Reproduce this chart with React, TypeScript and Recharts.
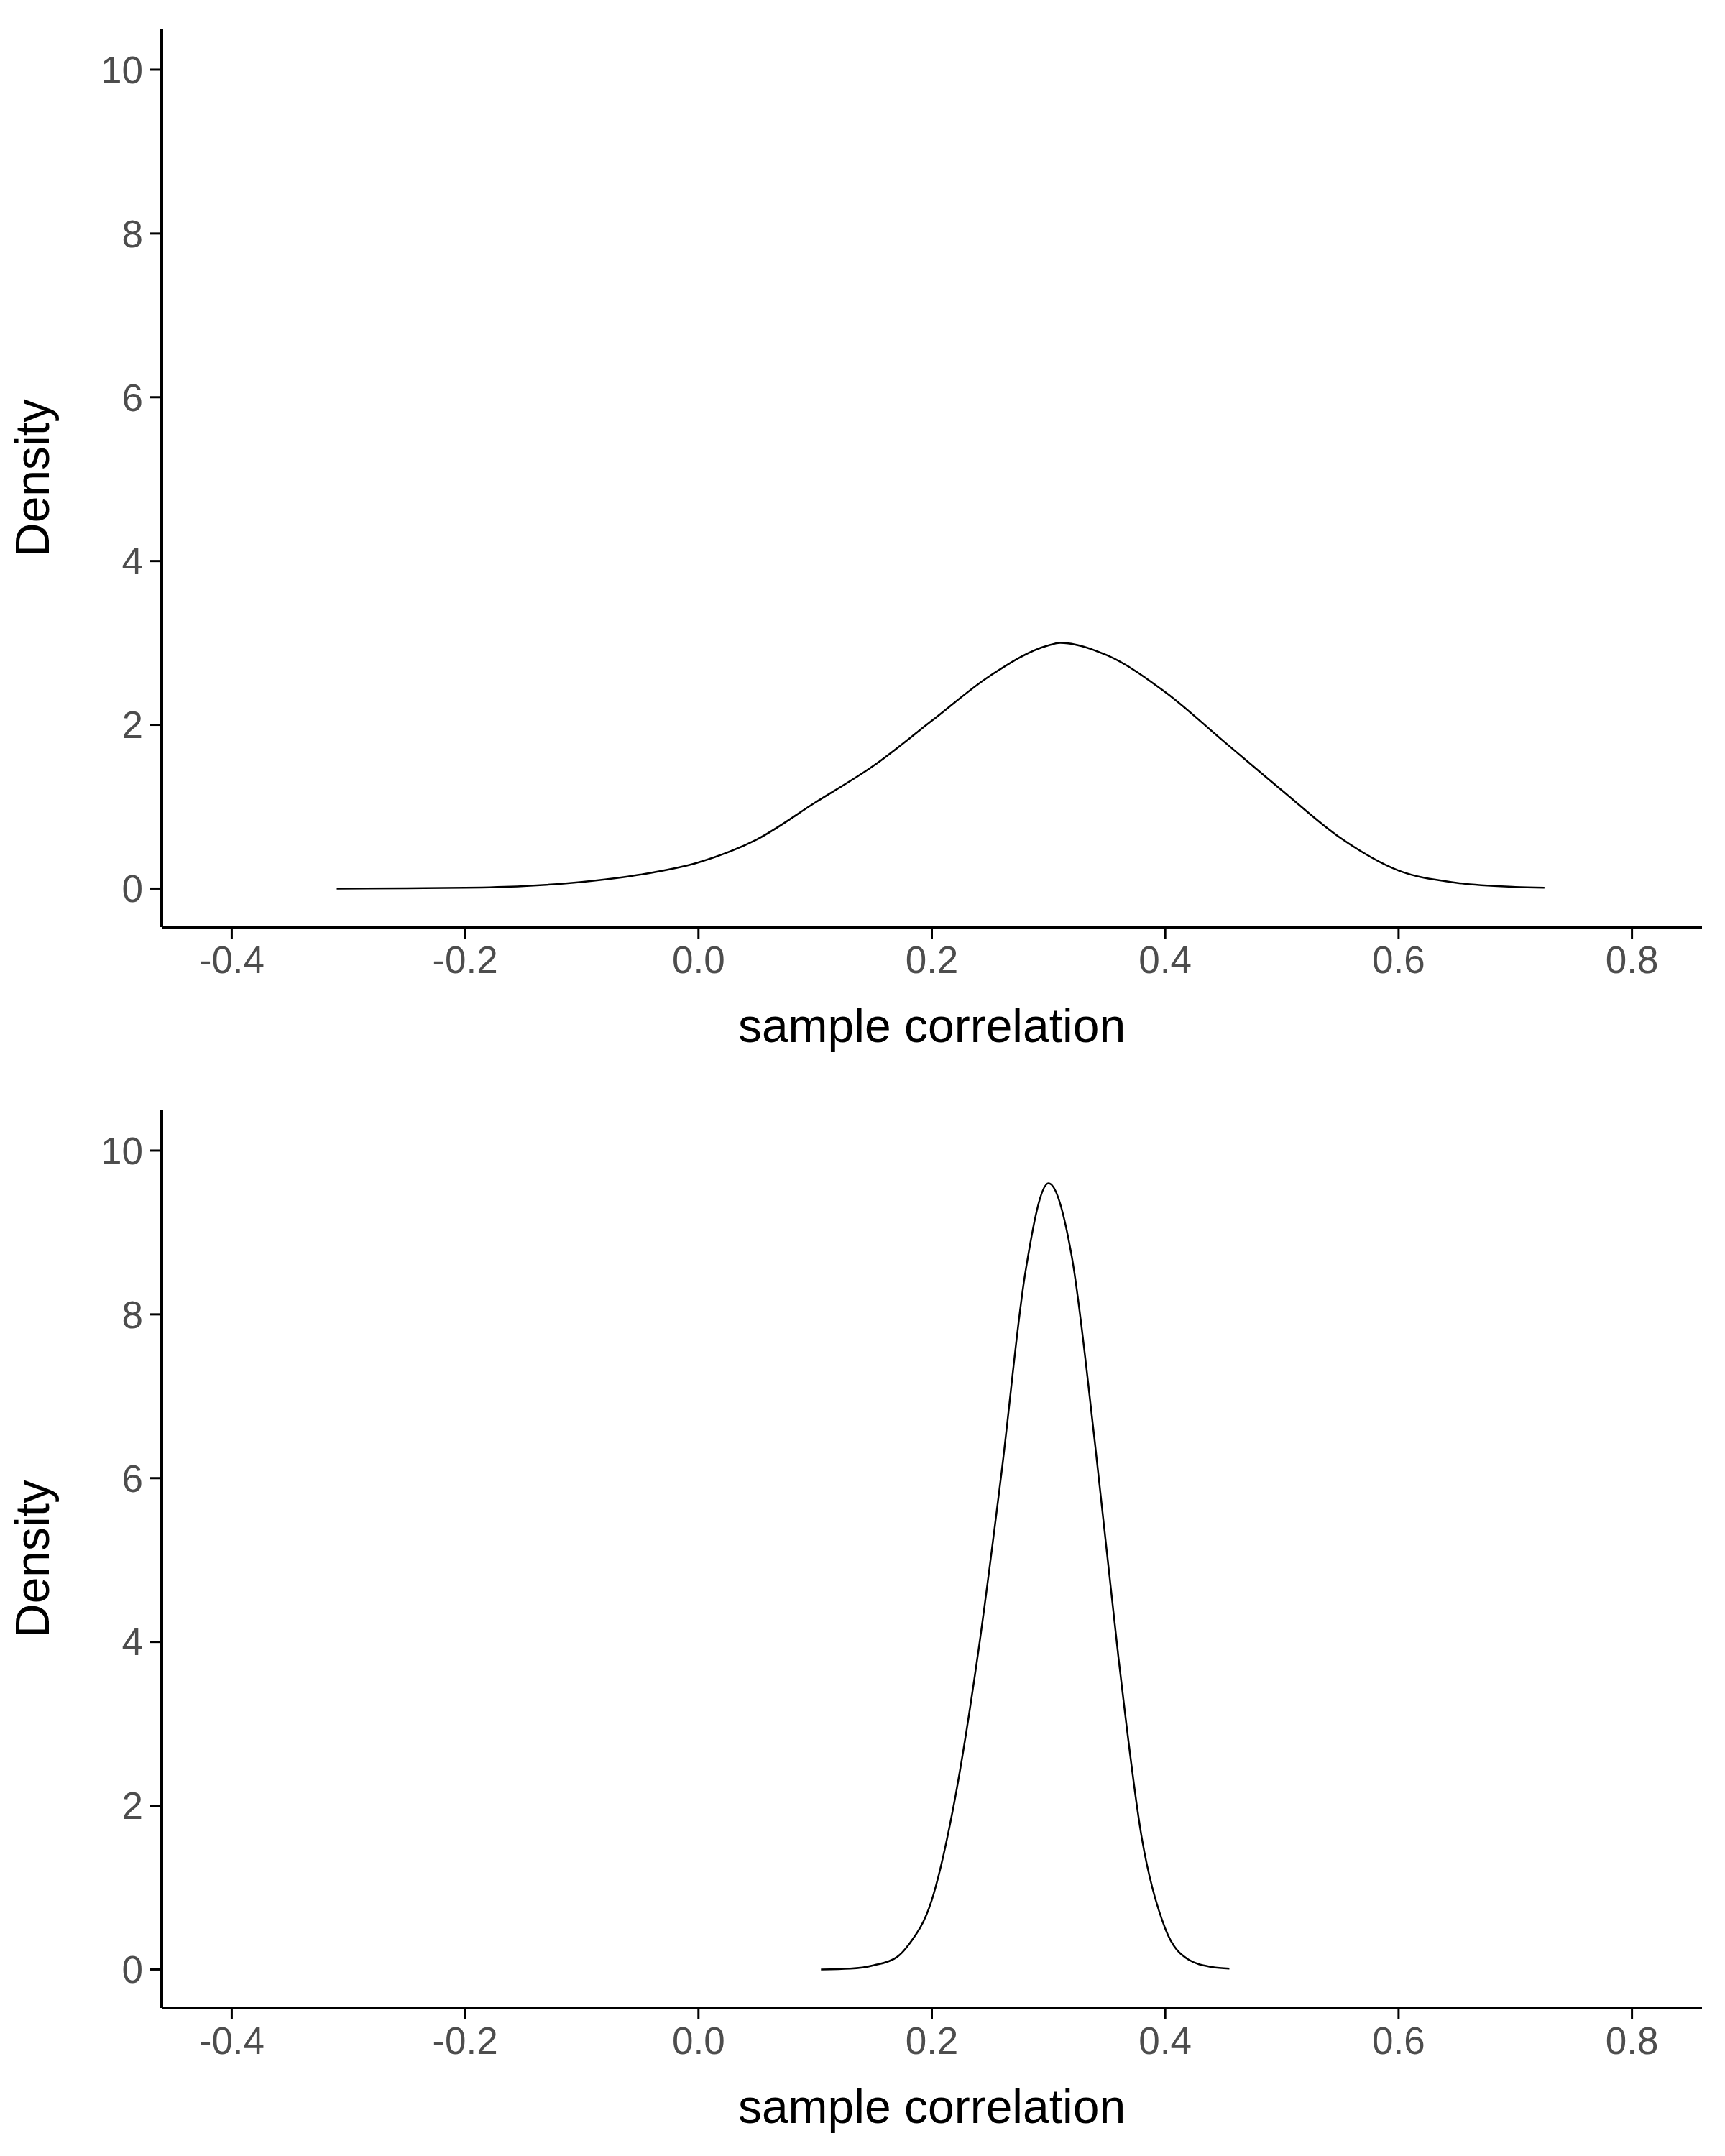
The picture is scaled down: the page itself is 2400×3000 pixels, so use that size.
import React from "react";
import { LineChart, Line, XAxis, YAxis, Label } from "recharts";

const xTicks = [-0.4, -0.2, 0, 0.2, 0.4, 0.6, 0.8];
const yTicks = [0, 2, 4, 6, 8, 10];

const wideX = [-0.31, -0.25, -0.2, -0.15, -0.1, -0.05, 0, 0.05, 0.1, 0.15, 0.2, 0.25, 0.3, 0.31, 0.35, 0.4, 0.45, 0.5, 0.55, 0.6, 0.65, 0.7, 0.725];
const wideY = [0, 0.005, 0.01, 0.03, 0.08, 0.17, 0.32, 0.6, 1.05, 1.5, 2.05, 2.6, 2.97, 3.0, 2.85, 2.4, 1.8, 1.2, 0.62, 0.22, 0.07, 0.02, 0.01];

const narrowX = [0.105, 0.13, 0.15, 0.17, 0.18, 0.2, 0.22, 0.24, 0.26, 0.28, 0.3, 0.32, 0.34, 0.36, 0.38, 0.4, 0.42, 0.44, 0.455];
const narrowY = [0, 0.01, 0.05, 0.15, 0.3, 0.85, 2.1, 3.9, 6.1, 8.5, 9.6, 8.7, 6.4, 3.8, 1.6, 0.5, 0.12, 0.03, 0.01];

const build = (xs: number[], ys: number[]) => xs.map((x, i) => ({ x, y: ys[i] }));

const tickStyle = { fill: "#4d4d4d", fontSize: 53, fontFamily: "Liberation Sans, Arial, sans-serif" };
const titleStyle = { fill: "#000", fontSize: 66, fontFamily: "Liberation Sans, Arial, sans-serif" };

function Panel({ data, top }: { data: { x: number; y: number }[]; top: number }) {
  return (
    <div style={{ position: "absolute", left: 0, top }}>
      <LineChart width={2400} height={1500} data={data} margin={{ top: 40, right: 32, bottom: 0, left: 0 }}>
        <XAxis
          dataKey="x"
          type="number"
          domain={[-0.46, 0.86]}
          ticks={xTicks}
          allowDataOverflow
          height={210}
          tick={tickStyle}
          tickFormatter={(v: number) => v.toFixed(1)}
          axisLine={{ stroke: "#000", strokeWidth: 4 }}
          tickLine={{ stroke: "#000", strokeWidth: 3 }}
          tickSize={16}
          tickMargin={10}
        >
          <Label value="sample correlation" position="insideBottom" offset={50} style={{ ...titleStyle, textAnchor: "middle" }} />
        </XAxis>
        <YAxis
          type="number"
          domain={[-0.47, 10.5]}
          ticks={yTicks}
          allowDataOverflow
          width={225}
          tick={tickStyle}
          axisLine={{ stroke: "#000", strokeWidth: 4 }}
          tickLine={{ stroke: "#000", strokeWidth: 3 }}
          tickSize={16}
          tickMargin={10}
        >
          <Label value="Density" angle={-90} position="insideLeft" offset={45} style={{ ...titleStyle, textAnchor: "middle" }} />
        </YAxis>
        <Line dataKey="y" type="monotone" stroke="#000" strokeWidth={2.5} dot={false} isAnimationActive={false} />
      </LineChart>
    </div>
  );
}

export default function App() {
  return (
    <div style={{ position: "absolute", left: 0, top: 0, width: 2400, height: 3000, background: "#fff" }}>
      <Panel data={build(wideX, wideY)} top={0} />
      <Panel data={build(narrowX, narrowY)} top={1504} />
    </div>
  );
}
